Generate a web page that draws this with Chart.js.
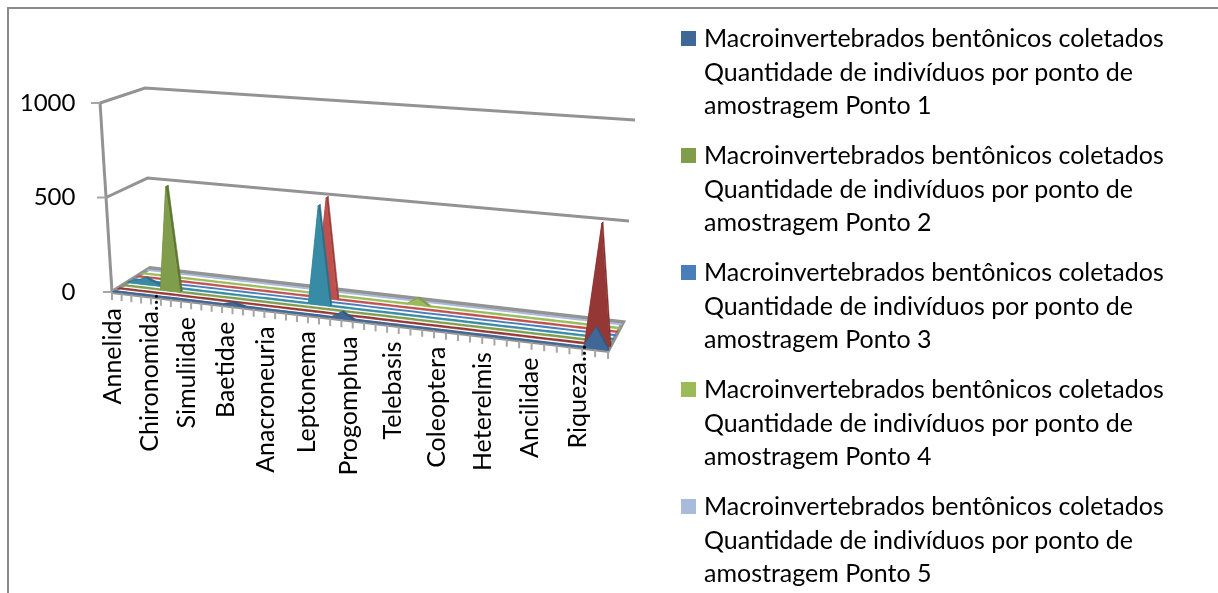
<!DOCTYPE html>
<html>
<head>
<meta charset="utf-8">
<title>Macroinvertebrados bentônicos</title>
<script src="https://cdn.jsdelivr.net/npm/chart.js@4/dist/chart.umd.js"></script>
<style>
  html, body { margin: 0; padding: 0; background: #fff; overflow: hidden; }
  #wrap { position: relative; width: 1218px; height: 593px; overflow: hidden; }
  #frame { position: absolute; left: 7px; top: 7px; width: 1300px; height: 700px; border: 2px solid #8a8a8a; }
  canvas { position: absolute; left: 0; top: 0; }
  #legend { position: absolute; left: 681px; top: 21px; width: 520px; font: 25px Lato, sans-serif; line-height: 33.5px; color: #000; }
  .item { position: relative; padding-left: 23px; height: 117px; width: 490px; }
  .item i { position: absolute; left: 0; top: 10px; width: 15px; height: 15px; }
</style>
</head>
<body>
<div id="wrap">
  <div id="frame"></div>
  <canvas id="chart" width="1218" height="593"></canvas>
  <div id="legend"></div>
</div>
<script>
const tickLabels = ["Annelida", "Chironomida...", "Simuliidae", "Baetidae", "Anacroneuria", "Leptonema", "Progomphua", "Telebasis", "Coleoptera", "Heterelmis", "Ancilidae", "Riqueza..."];
const valueTicks = [0, 500, 1000];
const labelEvery = 4;

// one row per ponto, 45 taxa each, only every 4th taxon name is readable
const ponto1 = [0,0,0,0,0,0,0,0,0,0,0,0,12,0,0,0,0,0,0,0,0,0,32,0,0,0,0,0,0,0,0,0,0,0,0,0,0,0,0,0,0,0,0,100,0];
const ponto2 = [0,0,0,0,0,0,0,0,0,0,0,0,0,0,0,0,0,0,0,0,0,0,0,0,0,0,0,0,0,0,0,0,0,0,0,0,0,0,0,0,0,0,0,575,0];
const ponto3 = [0,0,0,0,0,555,0,0,0,0,0,0,0,0,0,0,0,0,0,0,0,0,0,0,0,0,0,0,0,0,0,0,0,0,0,0,0,0,0,0,0,0,0,0,0];
const ponto4 = [0,15,35,12,0,0,0,0,0,0,0,0,0,0,0,0,0,0,0,510,0,0,0,0,0,0,0,0,0,0,0,0,0,0,0,0,0,0,0,0,0,0,0,0,0];
const ponto5 = [0,0,0,0,0,0,0,0,0,0,0,0,0,0,0,0,0,0,0,0,0,0,0,0,0,0,0,0,0,0,0,0,0,0,0,0,0,0,0,0,0,0,0,0,0];
const ponto6 = [0,0,0,0,0,0,0,0,0,0,0,0,0,0,0,0,0,0,0,525,0,0,0,0,0,0,0,0,0,0,0,0,0,0,0,0,0,0,0,0,0,0,0,0,0];
const ponto7 = [0,0,0,0,0,0,0,0,0,0,0,0,0,0,0,0,0,0,0,0,0,0,0,0,0,0,0,35,0,0,0,0,0,0,0,0,0,0,0,0,0,0,0,0,0];
const ponto8 = [0,0,0,0,0,0,0,0,0,0,0,0,0,0,0,0,0,0,0,0,0,0,0,0,0,0,0,0,0,0,0,0,0,0,0,0,0,0,0,0,0,0,0,0,0];

const rows = [ponto1, ponto2, ponto3, ponto4, ponto5, ponto6, ponto7, ponto8];
const faceColors = ["#3f6797", "#953735", "#7f9d4b", "#378ba4", "#4a7ebb", "#c0504d", "#9bbb59", "#a9bbda"];
const topColors = ["#35587f", "#7f2f2d", "#5f7530", "#2a7086", "#3f6da5", "#98403d", "#7f9c47", "#a9bbda"];

const legendName = "Macroinvertebrados bentônicos coletados Quantidade de indivíduos por ponto de amostragem Ponto ";
const legendRows = [0, 2, 4, 6, 7];

// the box of the 3d plot in axis units: x in taxa, y in individuals
const lastIndex = 44;
const floor = { fl: [0, 0], fr: [44, -312], bl: [3.37, 127], br: [45.33, -159] };
const lift = { fl: [-1.06, 1000], fr: [0.71, 1138], bl: [-0.44, 952], br: [1.06, 1069] };

function bilerp(c, t, d) {
  return [0, 1].map((k) => {
    const front = c.fl[k] + (c.fr[k] - c.fl[k]) * t;
    const back = c.bl[k] + (c.br[k] - c.bl[k]) * t;
    return front + (back - front) * d;
  });
}

function warp(u) {
  return 0.85 * u + 0.15 * u * u;
}

function project(i, depth, value) {
  const t = warp(i / lastIndex);
  const d = depth / rows.length;
  const base = bilerp(floor, t, d);
  const up = bilerp(lift, t, d);
  return { x: base[0] + up[0] * value / 1000, y: base[1] + up[1] * value / 1000 };
}

function line(data, color, width) {
  return { data, borderColor: color, borderWidth: width, backgroundColor: "transparent", fill: false, pointRadius: 0, clip: false, tension: 0 };
}

function polygon(data, color, edge = 0.5) {
  return { data, borderColor: color, borderWidth: edge, backgroundColor: color, fill: "shape", pointRadius: 0, clip: false, tension: 0 };
}

function buildDatasets() {
  const back = [];
  const grey = "#939393";

  [500, 1000].forEach((v) => {
    back.push(line([project(0, 0, v), project(0, 8, v), project(lastIndex, 8, v)], grey, 3));
  });
  back.push(line([project(0, 0, 0), project(0, 0, 1000)], grey, 3));
  back.push(line([project(0, 0, 0), project(0, 8, 0), project(lastIndex, 8, 0), project(lastIndex, 0, 0), project(0, 0, 0)], grey, 4));

  const marks = [];
  for (let i = 0; i <= lastIndex; i++) {
    const p = project(i, 0, 0);
    marks.push(p, { x: p.x, y: p.y - 42 }, { x: p.x, y: null });
  }
  valueTicks.forEach((v) => {
    const p = project(0, 0, v);
    marks.push(p, { x: p.x - 0.8, y: p.y }, { x: p.x, y: null });
  });
  back.push(line(marks, "#a6a6a6", 2));

  for (let s = rows.length - 1; s >= 0; s--) {
    const row = rows[s];
    const zf = s + 0.1;
    const zr = s + 0.62;
    const floorFront = row.map((v, i) => project(i, zf, 0));
    const floorRear = row.map((v, i) => project(i, zr, 0));
    back.push(polygon(floorFront.concat(floorRear.slice().reverse()), faceColors[s], 0));
    // top of the ridges, one quad per slope
    for (let i = 0; i < lastIndex; i++) {
      if (row[i] > 0 || row[i + 1] > 0) {
        back.push(polygon([project(i, zf, row[i]), project(i + 1, zf, row[i + 1]), project(i + 1, zr, row[i + 1]), project(i, zr, row[i])], topColors[s]));
      }
    }
    if (Math.max(...row) > 0) {
      const profile = row.map((v, i) => project(i, zf, v));
      back.push(polygon(profile.concat(floorFront.slice().reverse()), faceColors[s]));
    }
  }
  // chart.js paints the first dataset on top
  return back.reverse();
}

const taxonLabels = {
  id: "taxonLabels",
  afterDraw(chart) {
    const { ctx, scales } = chart;
    ctx.save();
    ctx.font = "25px Lato, sans-serif";
    ctx.fillStyle = "#000";
    ctx.textAlign = "right";
    ctx.textBaseline = "middle";
    tickLabels.forEach((name, n) => {
      const i = n * labelEvery;
      const p = project(i, 0, 0);
      const lead = 31 * warp(i / lastIndex) - 1;
      const x = scales.x.getPixelForValue(p.x) - lead;
      // shortened names start higher, right under the floor
      const gap = name.endsWith("...") ? -3 : 16;
      const y = scales.y.getPixelForValue(p.y) - lead * 0.12 + gap;
      ctx.save();
      ctx.translate(x, y);
      ctx.rotate(-Math.PI / 2);
      ctx.fillText(name, 0, 0);
      ctx.restore();
    });
    ctx.restore();
  },
};

function renderLegend() {
  document.getElementById("legend").innerHTML = legendRows.map((s, n) =>
    `<div class="item"><i style="background:${faceColors[s]}"></i>${legendName}${n + 1}</div>`
  ).join("");
}

renderLegend();

new Chart(document.getElementById("chart").getContext("2d"), {
  type: "line",
  data: { datasets: buildDatasets() },
  plugins: [taxonLabels],
  options: {
    responsive: false,
    animation: false,
    events: [],
    layout: { padding: { left: 0, right: 564.9, top: 84.1, bottom: 225.4 } },
    plugins: { legend: { display: false }, tooltip: { enabled: false } },
    scales: {
      x: {
        type: "linear", min: -2, max: 48,
        grid: { display: false }, border: { display: false },
        ticks: { display: false },
        afterFit(scale) { scale.height = 0; },
      },
      y: {
        type: "linear", min: -400, max: 1100,
        grid: { display: false }, border: { display: false },
        ticks: { color: "#000", font: { family: "Lato", size: 24 }, padding: 6, callback: (v) => String(v) },
        afterBuildTicks(scale) { scale.ticks = valueTicks.map((value) => ({ value })); },
        afterFit(scale) { scale.width = 89.45; },
      },
    },
  },
});
</script>
</body>
</html>
